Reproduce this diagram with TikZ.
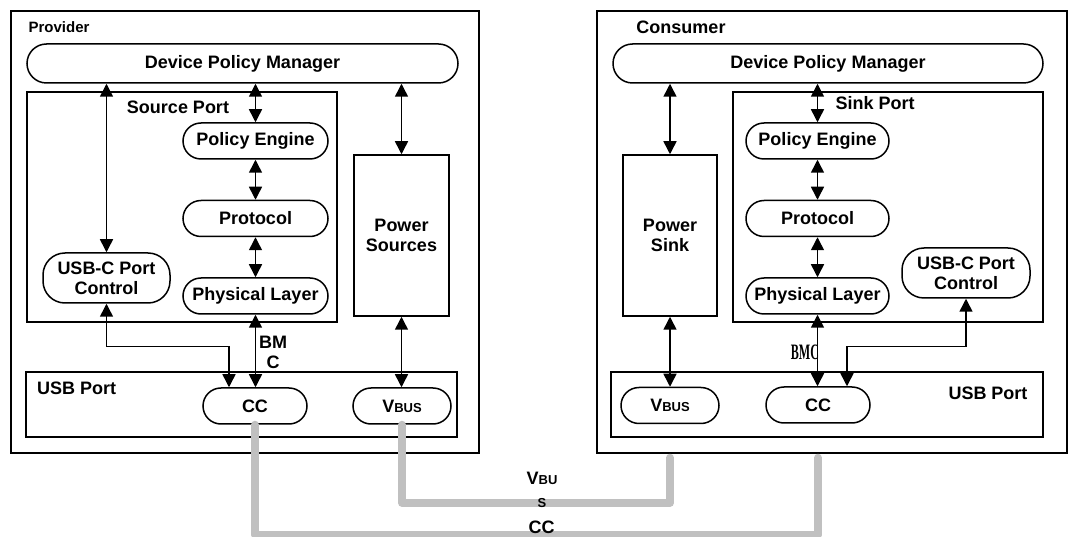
\documentclass[tikz,border=0pt]{standalone}
\usepackage{fontspec}
\setmainfont{Liberation Sans}
\newfontfamily\bmcfont{Liberation Serif}
\usetikzlibrary{arrows.meta,positioning}
\definecolor{cablegray}{RGB}{192,192,192}
\newcommand{\lowcap}[1]{{\fontsize{13}{13}\selectfont #1}}

\begin{document}
\begin{tikzpicture}[x=1pt, y=-1pt, node distance=40pt,
  every node/.style={font=\fontsize{18}{20}\selectfont\bfseries, align=center},
  box/.style={draw, line width=1.5pt, inner sep=0pt},
  pill/.style={draw, line width=1.5pt, rounded corners=18pt, minimum width=145pt, minimum height=36pt, inner sep=0pt},
  link/.style={{Triangle[length=13pt,width=13pt]}-{Triangle[length=13pt,width=13pt]}, line width=1.5pt},
  cable/.style={draw=cablegray, line width=8pt, line cap=round, line join=round, shorten >=4pt}]
  \useasboundingbox (0,0) rectangle (1069,537);

  \node[box, minimum width=468pt, minimum height=442pt] (prov) at (245,232) {};
  \node[font=\fontsize{15}{15}\selectfont\bfseries] (provT) at (59,27) {Provider};
  \node[pill, minimum width=431pt, minimum height=39pt, rounded corners=19.5pt] (dpmL) at (242.5,63.5) {Device Policy Manager};
  \node[box, minimum width=310pt, minimum height=230pt] (srcL) at (182,207) {};
  \node (srcT) at (178,107) {Source Port};
  \node[pill] (peL) at (255.5,141) {Policy Engine};
  \node[pill, below=of peL] (protL) {Protocol};
  \node[pill, below=of protL] (phyL) {Physical Layer};
  \node[pill, minimum width=127pt, minimum height=50pt, rounded corners=22pt] (ctlL) at (106.5,278) {USB-C Port\\Control};
  \node[box, minimum width=95pt, minimum height=161pt] (srcpwr) at (401.5,235.5) {Power\\Sources};
  \node[box, minimum width=431pt, minimum height=65pt] (usbL) at (241.5,404.5) {};
  \node[anchor=west, inner sep=0pt] (usbLT) at (37,388) {USB Port};
  \node[pill, minimum width=104pt] (ccL) at (255,406) {CC};
  \node[pill, minimum width=98pt] (vbusL) at (402,406) {V\lowcap{BUS}};
  \node (bmcL) at (273,352) {BM\\C};

  \node[box, minimum width=470pt, minimum height=442pt] (cons) at (832,232) {};
  \node (consT) at (681,27) {Consumer};
  \node[pill, minimum width=430pt, minimum height=39pt, rounded corners=19.5pt] (dpmR) at (828,63.5) {Device Policy Manager};
  \node[box, minimum width=310pt, minimum height=230pt] (snkR) at (888,207) {};
  \node (snkT) at (875,103) {Sink Port};
  \node[pill, minimum width=143pt] (peR) at (817.5,141) {Policy Engine};
  \node[pill, minimum width=143pt, below=of peR] (protR) {Protocol};
  \node[pill, minimum width=143pt, below=of protR] (phyR) {Physical Layer};
  \node[pill, minimum width=128pt, minimum height=50pt, rounded corners=22pt] (ctlR) at (966,273) {USB-C Port\\Control};
  \node[box, minimum width=94pt, minimum height=161pt] (snkpwr) at (670,235.5) {Power\\Sink};
  \node[box, minimum width=432pt, minimum height=65pt] (usbR) at (827,404.5) {};
  \node (usbRT) at (988,393) {USB Port};
  \node[pill, minimum width=98pt] (vbusR) at (670,405.5) {V\lowcap{BUS}};
  \node[pill, minimum width=104pt] (ccR) at (818,405) {CC};
  \node[font=\bmcfont\fontsize{22}{22}\selectfont\bfseries, xscale=0.55, transform shape] (bmcR) at (805,352) {BMC};

  \draw[link] (dpmL.south -| ctlL.north) -- (ctlL.north);
  \draw[link] (dpmL.south -| peL.north) -- (peL.north);
  \draw[link] (peL) -- (protL);
  \draw[link] (protL) -- (phyL);
  \draw[link] (phyL.south) -- (phyL.south |- ccL.north);
  \draw[link] (dpmL.south -| srcpwr.north) -- (srcpwr.north);
  \draw[link] (ctlL.south) -- ++(0,43) -| ([xshift=-26pt]ccL.north);
  \draw[link] (srcpwr.south) -- (srcpwr.south |- vbusL.north);

  \draw[link] (dpmR.south -| snkpwr.north) -- (snkpwr.north);
  \draw[link] (dpmR.south -| peR.north) -- (peR.north);
  \draw[link] (peR) -- (protR);
  \draw[link] (protR) -- (phyR);
  \draw[link] (phyR.south) -- (phyR.south |- ccR.north);
  \draw[link] (ctlR.south) -- ++(0,48) -| ([xshift=29pt]ccR.north);
  \draw[link] (snkpwr.south) -- (snkpwr.south |- vbusR.north);

  \draw[cable] (ccL.south) -- ++(0,110) -| (ccR.south |- cons.south);
  \draw[cable] (vbusL.south) -- ++(0,78) -| (vbusR.south |- cons.south);
  \node (vbusT) at (542,490) {V\lowcap{BU}\\[3pt]\lowcap{S}};
  \node (ccT) at (541.5,527) {CC};
\end{tikzpicture}
\end{document}
